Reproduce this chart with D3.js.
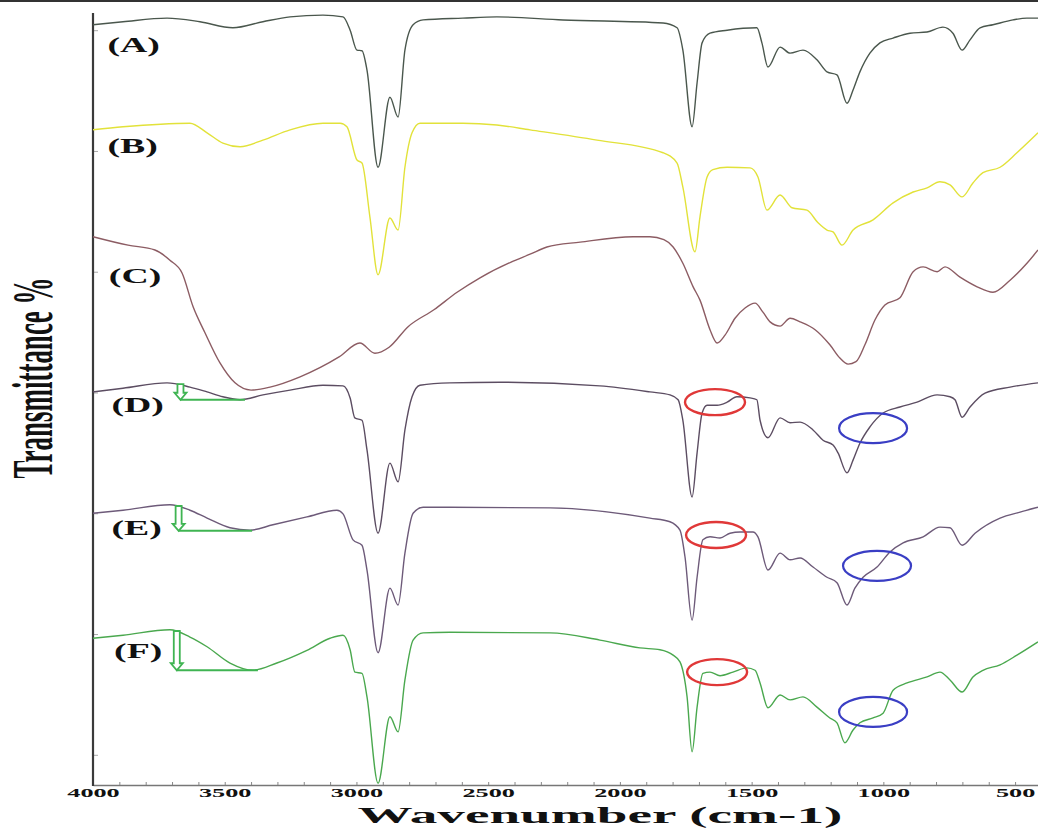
<!DOCTYPE html>
<html>
<head>
<meta charset="utf-8">
<script src="https://cdn.jsdelivr.net/npm/d3@7"></script>
<style>
  html, body { margin: 0; padding: 0; background: #fff; }
  svg { display: block; }
  text { font-family: "Liberation Serif", "DejaVu Serif", serif; font-weight: bold; fill: #111; }
</style>
</head>
<body>
<svg id="chart" width="1038" height="828"></svg>
<script>
// ---------------- DATA ----------------
const xTicks = [4000, 3500, 3000, 2500, 2000, 1500, 1000, 500];
const seriesNames = ["(A)", "(B)", "(C)", "(D)", "(E)", "(F)"];

// [wavenumber (cm-1), transmittance (offset, a.u.)]
const seriesA = [[4000,120.9],[3886,121.4],[3719,122.0],[3594,121.4],[3469,120.4],[3355,121.4],[3252,122.2],[3127,122.5],[3051,122.2],[3024,120.0],[2998,116.7],[2979,116.6],[2960,113.4],[2918,97.3],[2873,108.9],[2842,105.6],[2816,116.7],[2785,120.9],[2747,121.7],[2596,122.0],[2467,122.2],[2216,121.7],[1836,121.2],[1783,120.4],[1761,116.7],[1726,104.0],[1707,111.3],[1688,117.9],[1658,119.5],[1593,120.0],[1480,120.4],[1461,117.9],[1438,113.9],[1392,117.2],[1354,116.2],[1305,116.7],[1252,115.1],[1214,113.1],[1176,112.6],[1138,107.9],[1115,110.1],[1089,113.1],[1051,116.2],[1013,117.9],[963,118.7],[899,119.5],[834,119.7],[774,120.5],[736,119.5],[701,116.7],[671,118.4],[633,120.4],[584,120.9],[508,121.7],[455,122.0],[413,122.0]];
const seriesB = [[4000,103.5],[3886,104.0],[3632,104.6],[3567,103.0],[3507,101.3],[3442,100.7],[3355,101.8],[3252,103.5],[3127,104.6],[3062,104.6],[3036,104.0],[2998,98.5],[2979,98.0],[2949,89.1],[2918,79.5],[2873,88.9],[2842,86.9],[2816,97.3],[2789,103.0],[2759,104.6],[2596,104.6],[2467,104.3],[2341,103.5],[2087,101.8],[1836,99.7],[1783,98.0],[1761,94.0],[1715,83.3],[1696,89.1],[1669,95.7],[1647,96.9],[1593,97.3],[1506,97.2],[1476,95.7],[1442,90.2],[1392,92.7],[1347,90.6],[1290,90.2],[1248,88.1],[1214,86.9],[1191,86.6],[1157,84.4],[1115,86.9],[1039,88.6],[963,91.4],[887,93.2],[834,93.9],[785,94.9],[747,94.4],[701,92.4],[660,94.7],[622,96.4],[557,97.3],[493,99.7],[413,103.0]];
const seriesC = [[4000,85.8],[3867,84.4],[3765,83.6],[3708,81.9],[3662,79.8],[3620,74.2],[3575,69.9],[3518,64.9],[3461,61.6],[3400,60.4],[3328,60.9],[3214,62.6],[3066,65.9],[2987,68.2],[2930,66.5],[2876,67.5],[2804,70.9],[2706,73.7],[2618,76.6],[2531,79.0],[2413,81.6],[2341,82.9],[2277,84.1],[2151,84.9],[1950,85.8],[1886,85.8],[1833,85.3],[1798,84.1],[1761,81.4],[1722,77.5],[1696,75.3],[1658,70.4],[1631,68.2],[1601,69.5],[1563,72.3],[1525,74.0],[1487,74.8],[1457,73.3],[1430,71.7],[1392,71.0],[1354,72.3],[1316,71.7],[1259,70.4],[1203,67.9],[1165,65.7],[1134,64.7],[1104,65.1],[1070,67.9],[1032,72.0],[994,74.5],[937,75.7],[887,80.0],[849,80.8],[796,80.0],[766,80.8],[709,79.1],[644,77.5],[584,76.6],[519,78.6],[455,81.4],[413,83.6]];
const seriesD = [[4000,60.1],[3886,60.7],[3719,61.6],[3632,60.9],[3567,60.1],[3507,59.3],[3442,58.8],[3355,59.6],[3252,60.4],[3127,61.2],[3051,61.1],[3024,59.1],[3006,55.8],[2979,55.4],[2960,50.5],[2918,36.7],[2873,48.3],[2842,45.2],[2816,53.8],[2789,59.3],[2759,61.2],[2645,61.6],[2455,61.7],[2076,61.1],[1886,60.1],[1810,59.6],[1779,58.8],[1761,55.4],[1726,42.7],[1707,50.0],[1688,56.6],[1669,57.9],[1631,57.9],[1593,58.4],[1556,59.3],[1506,59.1],[1480,58.8],[1468,55.4],[1438,52.5],[1392,55.8],[1354,55.0],[1316,55.1],[1267,53.8],[1229,52.1],[1191,51.3],[1172,50.0],[1138,46.7],[1115,48.8],[1089,51.6],[1051,54.3],[1001,56.6],[937,57.6],[872,58.4],[796,59.6],[747,59.3],[728,58.8],[701,55.9],[671,57.6],[614,59.9],[519,60.9],[413,61.6]];
const seriesE = [[4000,40.0],[3886,40.5],[3708,41.4],[3632,40.5],[3567,39.2],[3480,37.6],[3404,37.2],[3317,38.1],[3188,39.4],[3074,40.5],[3051,39.9],[3013,35.6],[2979,34.7],[2960,30.6],[2918,16.9],[2873,27.6],[2842,24.8],[2816,33.4],[2785,40.0],[2747,41.0],[2645,41.0],[2265,40.9],[1886,39.2],[1810,38.6],[1772,37.2],[1753,32.8],[1726,22.3],[1707,29.4],[1685,35.6],[1658,36.1],[1620,35.9],[1582,36.7],[1544,36.9],[1495,36.9],[1476,36.1],[1438,30.6],[1392,33.4],[1354,32.3],[1316,32.6],[1267,31.1],[1214,29.4],[1176,28.5],[1138,24.8],[1108,27.6],[1077,29.4],[1024,31.1],[975,33.6],[925,35.1],[849,36.1],[785,37.7],[747,37.6],[701,34.7],[652,36.7],[557,39.2],[481,40.2],[413,41.0]];
const seriesF = [[4000,19.3],[3886,19.8],[3708,20.7],[3632,19.5],[3567,17.9],[3480,15.2],[3393,14.0],[3302,15.2],[3188,17.3],[3100,19.3],[3051,19.8],[3024,17.4],[3006,13.7],[2979,13.5],[2960,9.6],[2918,-4.7],[2873,6.3],[2842,3.8],[2816,12.4],[2785,19.0],[2747,20.2],[2645,20.3],[2265,20.2],[2076,19.0],[1924,17.7],[1848,17.4],[1798,16.5],[1772,15.4],[1745,9.6],[1726,0.5],[1707,7.9],[1685,13.5],[1658,13.7],[1620,13.1],[1571,13.7],[1518,14.4],[1487,14.0],[1468,11.9],[1438,7.8],[1392,9.9],[1354,9.1],[1305,9.6],[1252,7.9],[1203,6.1],[1176,5.3],[1146,2.0],[1115,4.1],[1089,5.3],[1039,6.1],[1001,6.9],[963,10.7],[910,11.9],[834,12.9],[785,13.7],[747,12.4],[701,10.4],[660,12.9],[622,14.0],[557,14.9],[493,16.5],[413,18.7]];

// label anchor positions (wavenumber, value) for (A)..(F)
const labelWn = [3945, 3945, 3940, 3930, 3930, 3920];
const labelVal = [116.4, 99.7, 78.1, 56.8, 36.4, 16.0];

// green arrows: wavenumber, top value, tip value, baseline end wavenumber
const arrowWn = [3668, 3675, 3682];
const arrowTop = [61.4, 41.2, 20.5];
const arrowTip = [58.8, 37.1, 14.0];
const arrowEnd = [3423, 3396, 3374];

// highlight ellipses (red = C=O region, blue = C-O region)
const redWn = [1639, 1635, 1631];
const redVal = [58.4, 36.4, 13.7];
const blueWn = [1039, 1024, 1039];
const blueVal = [54.1, 31.3, 7.1];

// ---------------- CHART ----------------
const svg = d3.select("#chart");
const W = 1038, H = 828;
const x = d3.scaleLinear().domain([4000, 413]).range([93, 1038]);
const y = d3.scaleLinear().domain([-5, 125]).range([785, 0]);

const colors = ["#4a574d", "#e2e23a", "#8c5c63", "#5c4d62", "#6d5a79", "#4aa84e"];
const allSeries = [seriesA, seriesB, seriesC, seriesD, seriesE, seriesF];

// top border
svg.append("line").attr("x1", 0).attr("x2", W).attr("y1", 1).attr("y2", 1)
  .attr("stroke", "#333").attr("stroke-width", 2);

// bottom axis minor ticks
const minor = d3.range(4000, 400, -100);
svg.append("g").attr("transform", "translate(0,785)")
  .call(d3.axisBottom(x).tickValues(minor).tickSizeInner(-3).tickSizeOuter(0).tickFormat(""))
  .call(g => g.select(".domain").attr("stroke", "#777").attr("stroke-width", 1.5))
  .call(g => g.selectAll(".tick line").attr("stroke", "#888"));

// bottom axis labels
const xa = svg.append("g").attr("transform", "translate(0,785)")
  .call(d3.axisBottom(x).tickValues(xTicks).tickSize(0).tickFormat(d3.format("d")));
xa.select(".domain").remove();
xa.selectAll("text")
  .attr("y", 12).attr("dy", 0)
  .attr("font-size", 12.5)
  .attr("font-family", "Liberation Serif")
  .attr("font-weight", "bold")
  .attr("fill", "#111")
  .attr("transform", "scale(2.1,1)");

// left axis
svg.append("g").attr("transform", "translate(93,0)")
  .call(d3.axisLeft(y).tickValues([0, 20, 40, 60, 80, 100, 120]).tickSizeInner(-5).tickSizeOuter(0).tickFormat(""))
  .call(g => g.select(".domain").remove())
  .call(g => g.selectAll(".tick line").attr("stroke", "#aaa"));
svg.append("line").attr("x1", 93).attr("x2", 93).attr("y1", 13).attr("y2", 786)
  .attr("stroke", "#3a3a3a").attr("stroke-width", 2.2);

// titles
svg.append("text")
  .attr("transform", "translate(600,823) scale(2.3,1)")
  .attr("text-anchor", "middle")
  .attr("font-size", 24)
  .text("Wavenumber (cm-1)");
svg.append("text")
  .attr("transform", "translate(33,378) scale(2.1,1) rotate(-90)")
  .attr("text-anchor", "middle")
  .attr("dominant-baseline", "central")
  .attr("font-size", 27)
  .text("Transmittance %");

// spectra
const line = d3.line().x(d => x(d[0])).y(d => y(d[1])).curve(d3.curveMonotoneX);
allSeries.forEach((s, i) => {
  svg.append("path").datum(s)
    .attr("d", line)
    .attr("fill", "none")
    .attr("stroke", colors[i])
    .attr("stroke-width", 1.4)
    .attr("stroke-linejoin", "round");
});

// series labels
seriesNames.forEach((n, i) => {
  svg.append("text")
    .attr("transform", `translate(${x(labelWn[i])},${y(labelVal[i])}) scale(1.8,1)`)
    .attr("font-size", 21)
    .text(n);
});

// green arrows and baselines
const green = "#3fb452";
arrowWn.forEach((w, i) => {
  const cx = x(w), y0 = y(arrowTop[i]), y1 = y(arrowTip[i]);
  const hh = Math.min(7, (y1 - y0) * 0.55);
  svg.append("line")
    .attr("x1", cx).attr("x2", x(arrowEnd[i]))
    .attr("y1", y1).attr("y2", y1)
    .attr("stroke", green).attr("stroke-width", 2);
  const p = d3.path();
  p.moveTo(cx - 3, y0); p.lineTo(cx + 3, y0); p.lineTo(cx + 3, y1 - hh);
  p.lineTo(cx + 6, y1 - hh); p.lineTo(cx, y1); p.lineTo(cx - 6, y1 - hh);
  p.lineTo(cx - 3, y1 - hh); p.closePath();
  svg.append("path").attr("d", p.toString())
    .attr("fill", "#fff").attr("stroke", green).attr("stroke-width", 1.8)
    .attr("stroke-linejoin", "miter");
});

// ellipses
redWn.forEach((w, i) => {
  svg.append("ellipse").attr("cx", x(w)).attr("cy", y(redVal[i]))
    .attr("rx", 30).attr("ry", 13)
    .attr("fill", "none").attr("stroke", "#e03838").attr("stroke-width", 2.4);
});
blueWn.forEach((w, i) => {
  svg.append("ellipse").attr("cx", x(w)).attr("cy", y(blueVal[i]))
    .attr("rx", 34).attr("ry", 15)
    .attr("fill", "none").attr("stroke", "#3a3ec4").attr("stroke-width", 2.2);
});
</script>
</body>
</html>
